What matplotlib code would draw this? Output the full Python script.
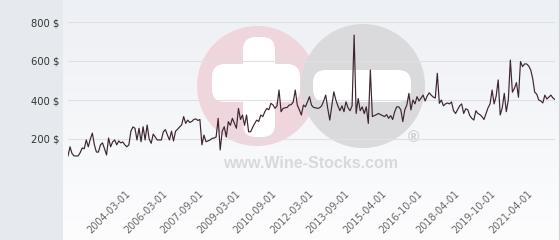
import matplotlib
matplotlib.use("Agg")
import matplotlib.pyplot as plt
import numpy as np
from matplotlib.patches import Circle, FancyBboxPatch, Rectangle

# ---- data ----
tick_labels = ["2004-03-01", "2006-03-01", "2007-09-01", "2009-03-01", "2010-09-01",
               "2012-03-01", "2013-09-01", "2015-04-01", "2016-10-01", "2018-04-01",
               "2019-10-01", "2021-04-01"]
prices = [
    113, 160, 125, 113, 113, 113, 130, 154, 150, 195,
    160, 200, 230, 170, 133, 133, 170, 180, 150, 118,
    205, 160, 185, 195, 170, 190, 180, 185, 170, 160,
    170, 240, 262, 255, 195, 255, 186, 263, 195, 272,
    200, 178, 225, 210, 195, 195, 195, 237, 248, 220,
    195, 240, 190, 240, 250, 262, 272, 315, 280, 297,
    285, 290, 300, 303, 295, 300, 170, 220, 186, 190,
    195, 203, 205, 210, 306, 144, 240, 263, 210, 289,
    270, 306, 280, 255, 357, 300, 323, 270, 323, 237,
    237, 260, 280, 297, 290, 323, 315, 340, 357, 350,
    383, 375, 357, 370, 451, 340, 357, 360, 362, 374,
    376, 390, 451, 374, 350, 323, 374, 365, 390, 417,
    374, 362, 360, 357, 360, 370, 395, 425, 357, 297,
    370, 442, 400, 370, 345, 370, 340, 391, 360, 345,
    370, 733, 331, 408, 345, 365, 330, 365, 280, 554,
    315, 320, 325, 331, 325, 320, 315, 325, 306, 320,
    300, 340, 365, 365, 350, 289, 350, 375, 434, 349,
    400, 380, 417, 395, 410, 425, 395, 420, 437, 425,
    415, 410, 537, 383, 400, 370, 380, 385, 380, 390,
    345, 331, 350, 370, 380, 331, 355, 350, 320, 306,
    297, 345, 331, 325, 315, 300, 330, 360, 380, 451,
    380, 420, 503, 323, 360, 434, 340, 400, 605, 440,
    460, 489, 414, 597, 571, 585, 585, 575, 555, 511,
    440, 430, 400, 395, 385, 425, 405, 415, 425, 410,
    403,
]
y_ticks = [0, 200, 400, 600, 800]
y_tick_labels = ["", "200 $", "400 $", "600 $", "800 $"]

# ---- figure ----
W, H = 560, 240
fig = plt.figure(figsize=(W / 100, H / 100), dpi=100)

# background layer in pixel coordinates
bg = fig.add_axes([0, 0, 1, 1], zorder=0)
bg.set_xlim(0, W)
bg.set_ylim(H, 0)
bg.axis("off")

top = np.array([237, 240, 244]) / 255
bot = np.array([253, 253, 254]) / 255
t = np.linspace(0, 1, 100)[:, None]
grad = (top[None, :] * (1 - t) + bot[None, :] * t)[:, None, :]
bg.imshow(grad, extent=[63, W, H, 0], aspect="auto", zorder=0)
bg.add_patch(Rectangle((0, 0), 63, H, color="#e6eaee", zorder=1, lw=0))
bg.plot([558.5, 558.5], [0, H], color="#cfd2d6", lw=0.8, zorder=1)

# watermark
pink = "#efd6dc"
grey = "#dadadc"
bg.add_patch(Circle((257, 86), 60, color=pink, zorder=2, lw=0))
bg.add_patch(Circle((363, 86), 62, color=grey, zorder=3, lw=0))
bg.add_patch(FancyBboxPatch((243, 37), 32, 100, boxstyle="round,pad=0,rounding_size=13",
                            color="white", zorder=4, lw=0))
bg.add_patch(FancyBboxPatch((212, 64), 88, 38, boxstyle="round,pad=0,rounding_size=13",
                            color="white", zorder=4, lw=0))
bg.add_patch(FancyBboxPatch((313, 70), 98, 32, boxstyle="round,pad=0,rounding_size=13",
                            color="white", zorder=4, lw=0))
bg.text(413, 138, "®", fontsize=11, color="#d0d0d0", ha="center", va="center", zorder=5,
        fontweight="bold")
bg.text(311, 163, "www.Wine-Stocks.com", fontsize=11.5, color="#d9d9d9", ha="center",
        va="center", fontweight="bold", family="Liberation Sans", zorder=5)

# main chart
ax = fig.add_axes([68 / W, 1 - 178 / H, (555 - 68) / W, (178 - 22) / H], zorder=1)
ax.patch.set_alpha(0)
x = np.arange(len(prices))
ax.plot(x, prices, color="#3c2530", lw=0.85, zorder=3)
ax.set_xlim(0, len(prices) - 1)
ax.set_ylim(0, 800)
ax.set_yticks(y_ticks)
ax.set_yticklabels(y_tick_labels)
ax.grid(axis="y", color="#e0e0e2", lw=0.8)
ax.set_axisbelow(True)

tick_pos = [30 + 18 * k for k in range(len(tick_labels))]
ax.set_xticks(tick_pos)
ax.set_xticklabels(tick_labels, rotation=45, ha="right", va="center",
                   rotation_mode="anchor", fontsize=7, color="#666666")
for s in ax.spines.values():
    s.set_visible(False)
ax.tick_params(axis="x", length=0, pad=10)
ax.tick_params(axis="y", length=0, pad=6, labelsize=7.2, labelcolor="#333333")

fig.savefig("out.png", dpi=100)
